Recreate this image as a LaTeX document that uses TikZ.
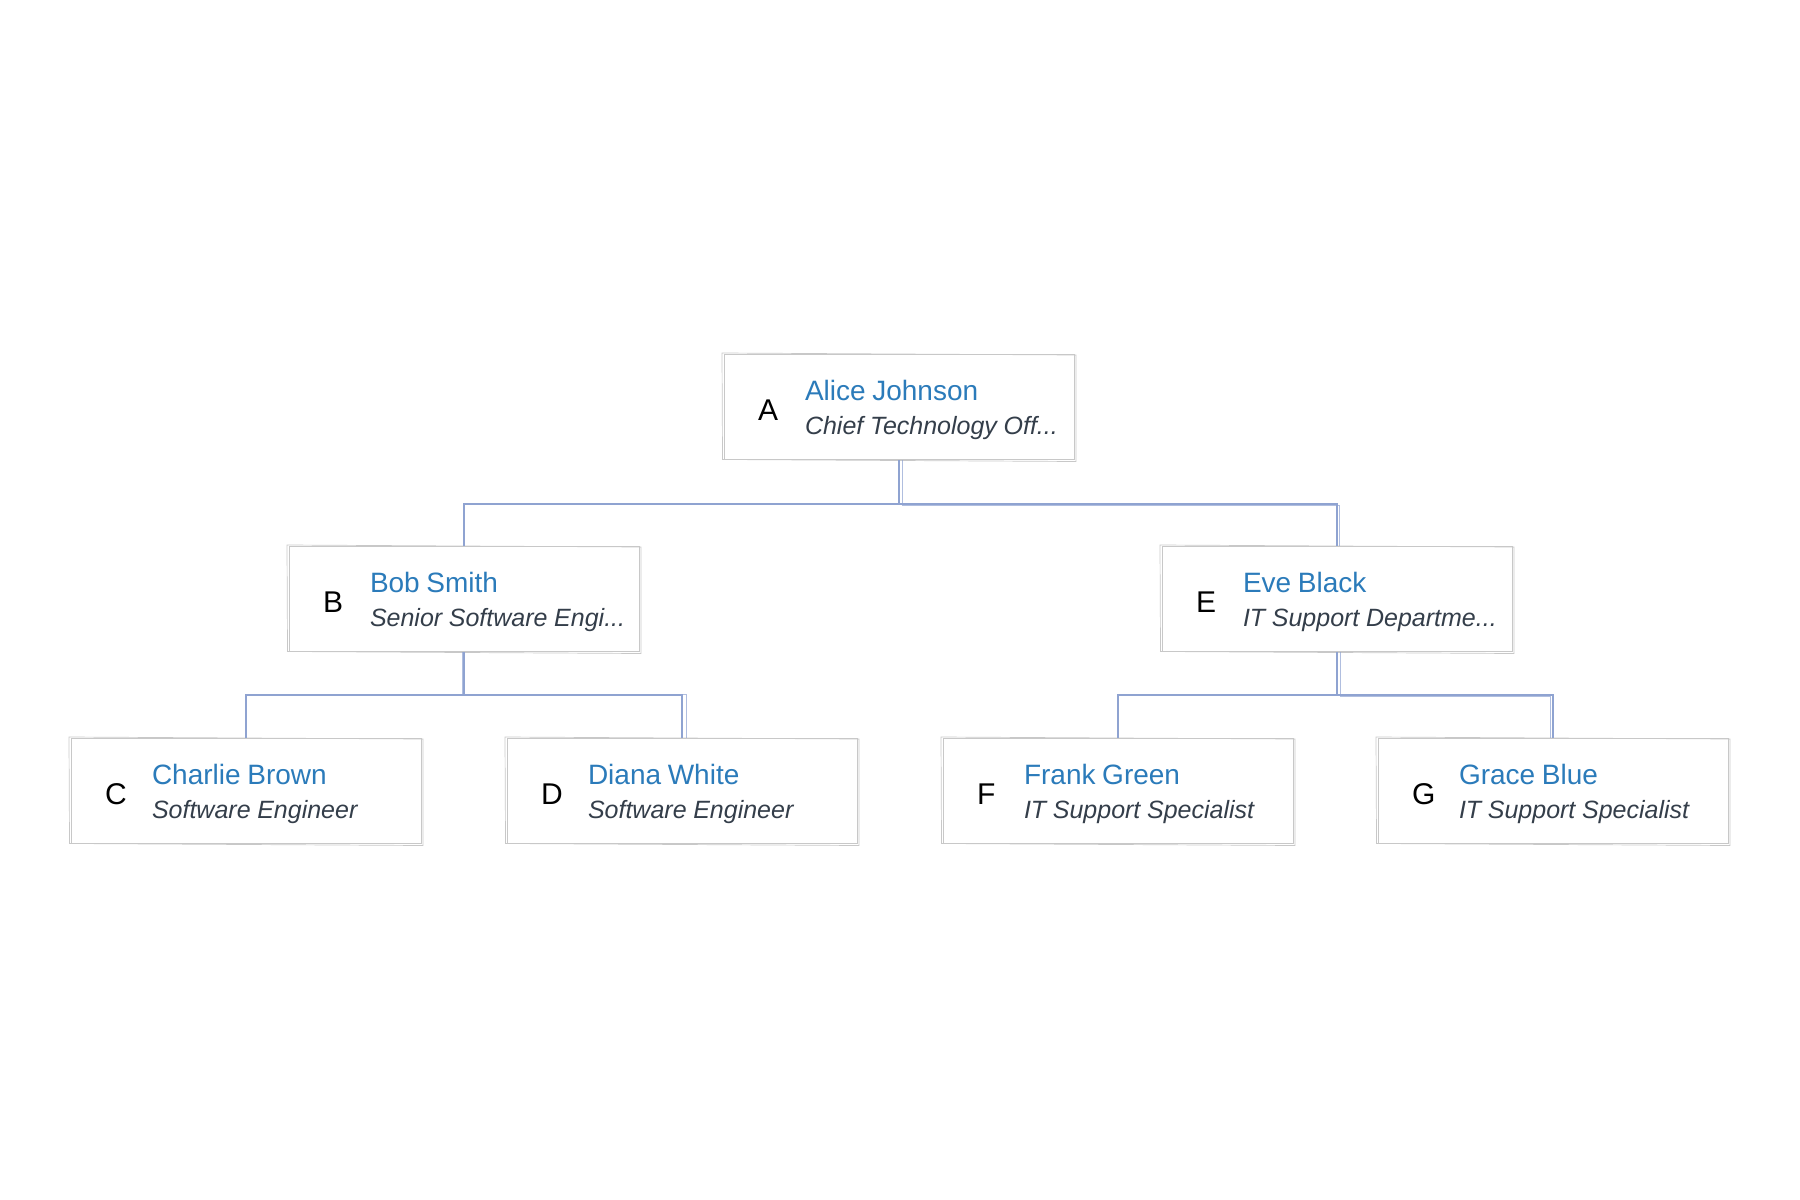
\documentclass[tikz,border=0pt]{standalone}
\usepackage{fontspec}
\setmainfont{Liberation Sans}
\usetikzlibrary{calc}
\usepackage{xcolor}
\definecolor{color2b7bba}{HTML}{2b7bba}
\definecolor{color343e4a}{HTML}{343e4a}
\definecolor{color8fa3d1}{HTML}{8fa3d1}
\definecolor{colorc8c8c8}{HTML}{c8c8c8}

% letter, name, role inside one box
\newcommand{\staff}[3]{\raisebox{-1.7pt}[\height][\depth]{\hspace*{17pt}\makebox[23.5pt][l]{\raisebox{-2.3pt}{\fontsize{15}{18}\selectfont #1}}\parbox[c]{128pt}{\fontsize{14}{17}\selectfont\textcolor{color2b7bba}{#2}\\\fontsize{12.5}{17}\selectfont\itshape\textcolor{color343e4a}{#3}}}}

\begin{document}
\begin{tikzpicture}
    [x=0.5pt, y=-0.5pt,
     staffbox/.style={draw=colorc8c8c8, line width=0.5pt, fill=white,
        minimum width=175pt, minimum height=52.5pt, inner xsep=0pt, inner ysep=0pt,
        text width=175pt, align=left},
     sketchline/.style={draw=colorc8c8c8, line width=0.35pt},
     link/.style={draw=color8fa3d1, line width=1.1pt},
     linkfaint/.style={draw=color8fa3d1, line width=0.5pt, opacity=0.7},
    ]

\useasboundingbox (0,0) rectangle (1800,1200);

\node[staffbox] (a) at (899,407) {\staff{A}{Alice Johnson}{Chief Technology Off...}};
\node[staffbox] (b) at (464,599) {\staff{B}{Bob Smith}{Senior Software Engi...}};
\node[staffbox] (e) at (1337,599) {\staff{E}{Eve Black}{IT Support Departme...}};
\node[staffbox] (c) at (246,791) {\staff{C}{Charlie Brown}{Software Engineer}};
\node[staffbox] (d) at (682,791) {\staff{D}{Diana White}{Software Engineer}};
\node[staffbox] (f) at (1118,791) {\staff{F}{Frank Green}{IT Support Specialist}};
\node[staffbox] (g) at (1553,791) {\staff{G}{Grace Blue}{IT Support Specialist}};

% second rough stroke round each box
\foreach \n in {a,b,c,d,e,f,g}{
  \draw[sketchline] ([shift={(-1.5,-1)}]\n.north west) -- ([shift={(1.5,1)}]\n.north east)
    -- ([shift={(1.5,1.5)}]\n.south east) -- ([shift={(-1,-0.5)}]\n.south west) -- cycle;
}

% connectors
\draw[link] (a.south) -- ++(0,44) -| (b.north);
\draw[link] (a.south) -- ++(0,44) -| (e.north);
\draw[link] (b.south) -- ++(0,43) -| (c.north);
\draw[link] (b.south) -- ++(0,43) -| (d.north);
\draw[link] (e.south) -- ++(0,43) -| (f.north);
\draw[link] (e.south) -- ++(0,43) -| (g.north);
\draw[linkfaint] ([xshift=1.5]a.south) -- ++(0,45) -| ([xshift=1]e.north);
\draw[linkfaint] ([xshift=-1]b.south) -- ++(0,42) -| ([xshift=2]d.north);
\draw[linkfaint] ([xshift=1.5]e.south) -- ++(0,44) -| ([xshift=-1.5]g.north);

\end{tikzpicture}
\end{document}
